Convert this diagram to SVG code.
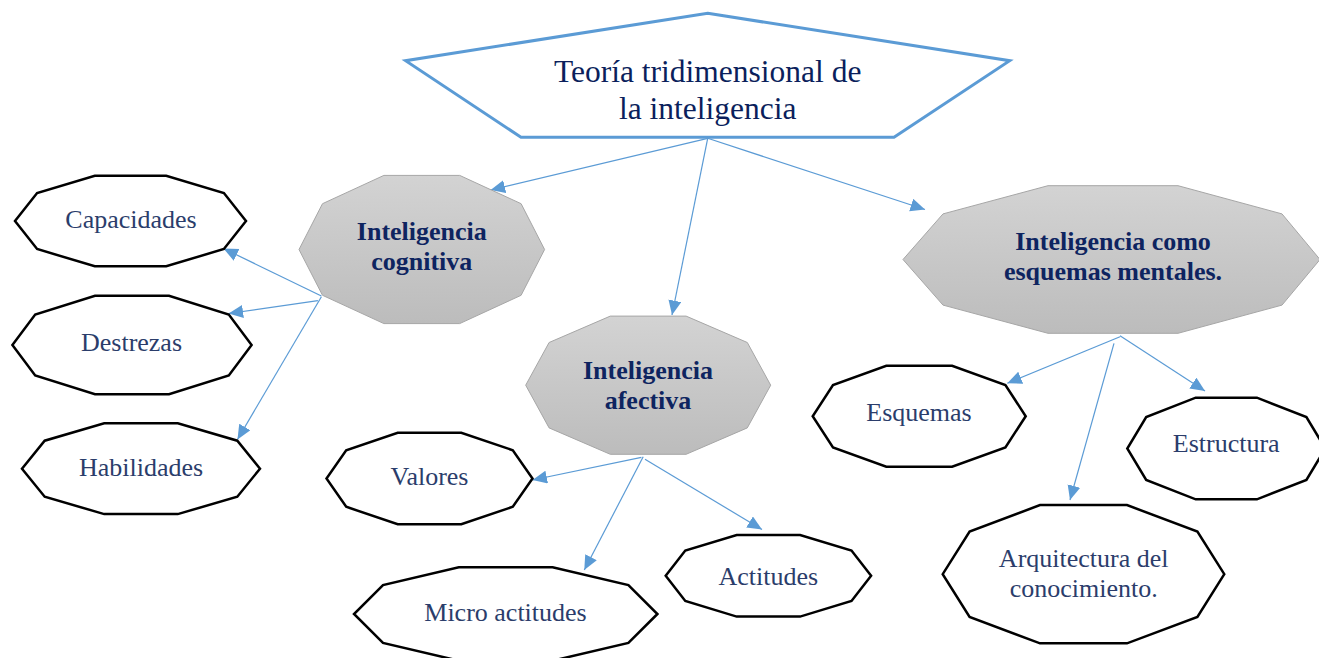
<svg xmlns="http://www.w3.org/2000/svg" width="1319" height="658" viewBox="0 0 1319 658">
<defs>
<linearGradient id="gray" x1="0" y1="0" x2="0" y2="1">
<stop offset="0" stop-color="#D3D3D3"/>
<stop offset="1" stop-color="#BCBCBC"/>
</linearGradient>
<marker id="arr" markerUnits="userSpaceOnUse" markerWidth="16" markerHeight="14" refX="14.5" refY="6.5" orient="auto">
<path d="M0,0 L14.5,6.5 L0,13 z" fill="#5B9BD5"/>
</marker>
<style>
.sub{fill:url(#gray);stroke:#A6A6A6;stroke-width:1}
.leaf{fill:#FFFFFF;stroke:#000000;stroke-width:2.5;stroke-linejoin:miter}
.title{font-family:"Liberation Serif","Times New Roman",serif;font-size:31.5px;fill:#0B1F5C;text-anchor:middle}
.bold{font-family:"Liberation Serif","Times New Roman",serif;font-size:26px;font-weight:bold;fill:#0E2460;text-anchor:middle}
.reg{font-family:"Liberation Serif","Times New Roman",serif;font-size:26px;fill:#2B3D6B;text-anchor:middle}
.conn{stroke:#5B9BD5;stroke-width:1.2;fill:none;marker-end:url(#arr)}
</style>
</defs>
<rect width="1319" height="658" fill="#FFFFFF"/>

<g id="connectors">
<line class="conn" x1="707.7" y1="138.3" x2="490.6" y2="190"/>
<line class="conn" x1="707.7" y1="138.3" x2="672" y2="315"/>
<line class="conn" x1="707.7" y1="138.3" x2="925" y2="209.5"/>
<line class="conn" x1="321.4" y1="296" x2="223.5" y2="248.5"/>
<line class="conn" x1="317.9" y1="300.7" x2="228.6" y2="313.5"/>
<line class="conn" x1="321.4" y1="296.7" x2="237.5" y2="439.5"/>
<line class="conn" x1="641.4" y1="457.3" x2="532.5" y2="480"/>
<line class="conn" x1="643.2" y1="456.7" x2="584.3" y2="570"/>
<line class="conn" x1="645" y1="459.3" x2="762" y2="529.5"/>
<line class="conn" x1="1120" y1="336.7" x2="1007.3" y2="383.3"/>
<line class="conn" x1="1114" y1="343.3" x2="1070" y2="500"/>
<line class="conn" x1="1120" y1="335.7" x2="1205" y2="391"/>
</g>

<g id="node-teoria">
<polygon points="707.7,13.3 1009.7,60.7 894,137.3 521,137.3 405.6,60.7" fill="#FFFFFF" stroke="#5B9BD5" stroke-width="3" stroke-linejoin="miter"/>
<text class="title" x="707.7" y="82">Teoría tridimensional de</text>
<text class="title" x="707.7" y="118.5">la inteligencia</text>
</g>

<g id="node-cognitiva">
<polygon class="sub" points="544.6,249.5 521.1,295.3 459.7,323.6 383.9,323.6 322.5,295.3 299,249.5 322.5,203.7 383.9,175.4 459.7,175.4 521.1,203.7"/>
<text class="bold" x="421.8" y="240">Inteligencia</text>
<text class="bold" x="421.8" y="269.5">cognitiva</text>
</g>

<g id="node-afectiva">
<polygon class="sub" points="770.7,385.2 747.3,427.9 686.1,454.3 610.3,454.3 549.1,427.9 525.7,385.2 549.1,342.5 610.3,316.1 686.1,316.1 747.3,342.5"/>
<text class="bold" x="648" y="378.5">Inteligencia</text>
<text class="bold" x="648" y="408.5">afectiva</text>
</g>

<g id="node-esquemas-mentales">
<polygon class="sub" points="1320,259.5 1282,305.1 1178,333.3 1048,333.3 943,305.1 903,259.5 943,213.9 1048,185.7 1178,185.7 1282,213.9"/>
<text class="bold" x="1113" y="249.5">Inteligencia como</text>
<text class="bold" x="1113" y="279.5">esquemas mentales.</text>
</g>

<g id="node-capacidades">
<polygon class="leaf" points="246,221 223.9,249 166.2,266.3 94.8,266.3 37.1,249 15,221 37.1,193 94.8,175.7 166.2,175.7 223.9,193"/>
<text class="reg" x="131" y="228">Capacidades</text>
</g>

<g id="node-destrezas">
<polygon class="leaf" points="251.6,345 228.8,375.5 169,394.3 95,394.3 35.2,375.5 12.4,345 35.2,314.5 95,295.7 169,295.7 228.8,314.5"/>
<text class="reg" x="131.5" y="350.5">Destrezas</text>
</g>

<g id="node-habilidades">
<polygon class="leaf" points="260,468.7 237.3,496.7 177.8,514.1 104.2,514.1 44.7,496.7 22,468.7 44.7,440.7 104.2,423.3 177.8,423.3 237.3,440.7"/>
<text class="reg" x="141" y="475.5">Habilidades</text>
</g>

<g id="node-valores">
<polygon class="leaf" points="532.5,478.5 512.8,506.8 461.3,524.3 397.7,524.3 346.2,506.8 326.5,478.5 346.2,450.2 397.7,432.7 461.3,432.7 512.8,450.2"/>
<text class="reg" x="429.5" y="484.5">Valores</text>
</g>

<g id="node-micro-actitudes">
<polygon class="leaf" points="657.4,614 628.4,642.9 552.6,660.7 458.8,660.7 383,642.9 354,614 383,585.1 458.8,567.3 552.6,567.3 628.4,585.1"/>
<text class="reg" x="505.5" y="621">Micro actitudes</text>
</g>

<g id="node-actitudes">
<polygon class="leaf" points="871.1,575.8 851.5,601 800.1,616.6 736.7,616.6 685.3,601 665.7,575.8 685.3,550.6 736.7,535 800.1,535 851.5,550.6"/>
<text class="reg" x="768.3" y="585">Actitudes</text>
</g>

<g id="node-esquemas">
<polygon class="leaf" points="1025.7,416.2 1005.4,447.4 952.1,466.7 886.3,466.7 833,447.4 812.7,416.2 833,385 886.3,365.7 952.1,365.7 1005.4,385"/>
<text class="reg" x="919" y="420.5">Esquemas</text>
</g>

<g id="node-estructura">
<polygon class="leaf" points="1325.3,448.5 1306.4,479.9 1256.9,499.3 1195.7,499.3 1146.2,479.9 1127.3,448.5 1146.2,417.1 1195.7,397.7 1256.9,397.7 1306.4,417.1"/>
<text class="reg" x="1226.2" y="452">Estructura</text>
</g>

<g id="node-arquitectura">
<polygon class="leaf" points="1224.3,574.2 1197.4,616.9 1127,643.3 1040,643.3 969.6,616.9 942.7,574.2 969.6,531.5 1040,505.1 1127,505.1 1197.4,531.5"/>
<text class="reg" x="1083.7" y="567">Arquitectura del</text>
<text class="reg" x="1083.7" y="597">conocimiento.</text>
</g>
</svg>
